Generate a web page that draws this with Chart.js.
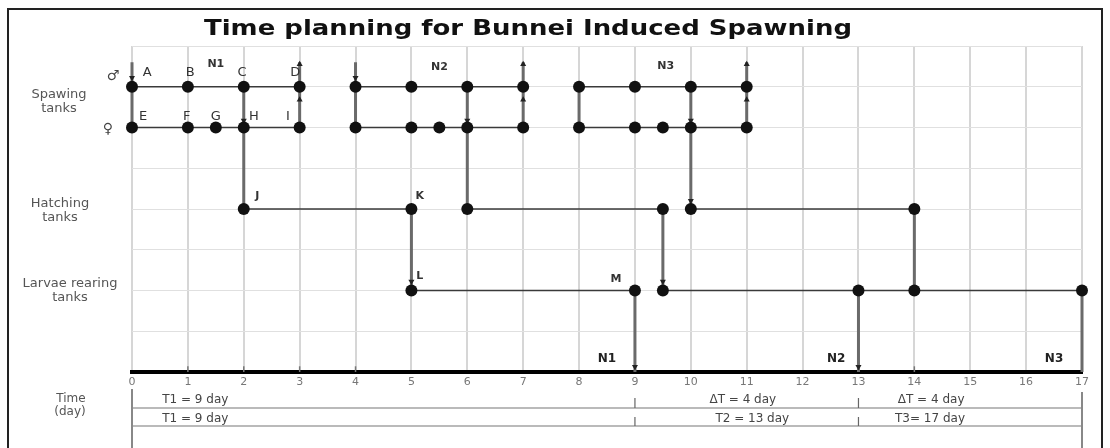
<!DOCTYPE html>
<html><head><meta charset="utf-8">
<script src="https://cdn.jsdelivr.net/npm/chart.js@4/dist/chart.umd.min.js"></script>
<style>
html,body{margin:0;padding:0;background:#fff;overflow:hidden;}
#wrap{position:relative;width:1110px;height:448px;}
#frame{position:absolute;left:7px;top:8px;width:1096px;height:460px;border:2px solid #222;box-sizing:border-box;pointer-events:none;}
canvas{position:absolute;left:0;top:0;}
</style></head>
<body><div id="wrap"><canvas id="c" width="1110" height="448"></canvas><div id="frame"></div></div>
<script>
// ---- data ----
const tickLabels = ['0','1','2','3','4','5','6','7','8','9','10','11','12','13','14','15','16','17'];
const rowLevel = {male: 7, female: 6, hatching: 4, larvae: 2, axis: 0};
const maleDays = [0,1,2,3,4,5,6,7,8,9,10,11];
const femaleDays = [0,1,1.5,2,3,4,5,5.5,6,7,8,9,9.5,10,11];
const hatchingDays = [2,5,6,9.5,10,14];
const larvaeDays = [5,9,9.5,13,14,17];
const maleSegments = [[0,3],[4,7],[8,11]];
const femaleSegments = [[0,3],[4,7],[8,11]];
const hatchingSegments = [[2,5],[6,9.5],[10,14]];
const larvaeSegments = [[5,9],[9.5,17]];
// transfers: [day, from level, to level]
const transfers = [[0,7.6,6],[2,7,4],[3,7.6,6],[4,7.6,6],[6,7,4],[7,7.6,6],[8,7,6],[10,7,4],[11,7.6,6],
                   [5,4,2],[9.5,4,2],[14,4,2],[9,2,0],[13,2,0],[17,2,0]];
const downArrows = [[0,7.22],[4,7.22],[2,6.17],[6,6.17],[10,6.17],[10,4.2],[5,2.22],[9.5,2.22],[9,0.13],[13,0.13]];
const upArrows = [[3,7.55],[7,7.55],[11,7.55],[3,6.68],[7,6.68],[11,6.68]];
const axisMarks = [1,2,3,4,14];
const letterLabels = [['A',0.27,7.34],['B',1.04,7.34],['C',1.97,7.34],['D',2.92,7.34],
                      ['E',0.2,6.26],['F',0.98,6.26],['G',1.5,6.26],['H',2.18,6.26],['I',2.79,6.26]];
const stageLabels = [['J',2.24,4.32],['K',5.15,4.32],['L',5.15,2.36],['M',8.66,2.28]];
const batchTopLabels = [['N1',1.5,7.56],['N2',5.5,7.48],['N3',9.55,7.5]];
const batchBottomLabels = [['N1',8.5,0.32],['N2',12.6,0.32],['N3',16.5,0.32]];
const rowLabels = [[['Spawing','tanks'],6.64,59],[['Hatching','tanks'],3.97,60],[['Larvae rearing','tanks'],1.99,70]];
const timeRow1 = [['T1 = 9 day',0.54,'left'],['\u0394T = 4 day',10.93,'center'],['\u0394T = 4 day',14.3,'center']];
const timeRow2 = [['T1 = 9 day',0.54,'left'],['T2 = 13 day',11.1,'center'],['T3= 17 day',14.28,'center']];
const timeBreaks = [9,13];
const titleText = 'Time planning for Bunnei Induced Spawning';

// ---- datasets ----
const datasets = [];
function seg(points, color, width){
  datasets.push({type:'scatter', data: points, showLine:true, borderColor:color, borderWidth:width,
    pointRadius:0, clip:false, order:5});
}
maleSegments.forEach(s=>seg([{x:s[0],y:rowLevel.male},{x:s[1],y:rowLevel.male}],'#3a3a3a',1.5));
femaleSegments.forEach(s=>seg([{x:s[0],y:rowLevel.female},{x:s[1],y:rowLevel.female}],'#3a3a3a',1.5));
hatchingSegments.forEach(s=>seg([{x:s[0],y:rowLevel.hatching},{x:s[1],y:rowLevel.hatching}],'#3a3a3a',1.5));
larvaeSegments.forEach(s=>seg([{x:s[0],y:rowLevel.larvae},{x:s[1],y:rowLevel.larvae}],'#3a3a3a',1.5));
transfers.forEach(t=>seg([{x:t[0],y:t[1]},{x:t[0],y:t[2]}],'#6a6a6a',3));
axisMarks.forEach(d=>seg([{x:d,y:0},{x:d,y:0.14}],'#777',1.5));

const dots = [];
maleDays.forEach(d=>dots.push({x:d,y:rowLevel.male}));
femaleDays.forEach(d=>dots.push({x:d,y:rowLevel.female}));
hatchingDays.forEach(d=>dots.push({x:d,y:rowLevel.hatching}));
larvaeDays.forEach(d=>dots.push({x:d,y:rowLevel.larvae}));
datasets.push({type:'scatter', data:dots, pointRadius:6, pointBackgroundColor:'#111', pointBorderColor:'#111',
  pointBorderWidth:0, clip:false, order:1});
datasets.push({type:'scatter', data:downArrows.map(a=>({x:a[0],y:a[1]})), pointStyle:'triangle', rotation:180,
  pointRadius:3.5, pointBackgroundColor:'#222', pointBorderColor:'#222', pointBorderWidth:0, clip:false, order:2});
datasets.push({type:'scatter', data:upArrows.map(a=>({x:a[0],y:a[1]})), pointStyle:'triangle', rotation:0,
  pointRadius:3.5, pointBackgroundColor:'#222', pointBorderColor:'#222', pointBorderWidth:0, clip:false, order:2});

// ---- annotations plugin ----
const annot = {
  id:'annot',
  beforeDraw(chart){
    const ctx=chart.ctx; ctx.save(); ctx.fillStyle='#fff'; ctx.fillRect(0,0,chart.width,chart.height); ctx.restore();
  },
  afterDraw(chart){
    const ctx=chart.ctx, xs=chart.scales.x, ys=chart.scales.y, ca=chart.chartArea;
    const X=v=>xs.getPixelForValue(v), Y=v=>ys.getPixelForValue(v);
    function txt(s,px,py,font,color,align){
      ctx.font=font; ctx.fillStyle=color; ctx.textAlign=align||'center'; ctx.textBaseline='middle';
      ctx.fillText(s,px,py);
    }
    ctx.save();
    // title
    ctx.save();
    ctx.font='bold 22px "DejaVu Sans"';
    const tw=ctx.measureText(titleText).width;
    const target=648;
    ctx.translate(528,29); ctx.scale(target/tw,1);
    txt(titleText,0,0,'bold 22px "DejaVu Sans"','#111','center');
    ctx.restore();
    // sex symbols
    txt('\u2642',113,76,'14px "DejaVu Sans"','#444','center');
    txt('\u2640',108,129,'14px "DejaVu Sans"','#444','center');
    // row labels
    rowLabels.forEach(r=>{
      const cy=Y(r[1]);
      txt(r[0][0],r[2],cy-7,'13px "DejaVu Sans"','#555','center');
      txt(r[0][1],r[2],cy+7,'13px "DejaVu Sans"','#555','center');
    });
    // point letters
    letterLabels.forEach(l=>txt(l[0],X(l[1]),Y(l[2]),'13px "DejaVu Sans"','#333','center'));
    stageLabels.forEach(l=>txt(l[0],X(l[1]),Y(l[2]),'bold 11px "DejaVu Sans"','#333','center'));
    batchTopLabels.forEach(l=>txt(l[0],X(l[1]),Y(l[2]),'bold 11px "DejaVu Sans"','#333','center'));
    batchBottomLabels.forEach(l=>txt(l[0],X(l[1]),Y(l[2]),'bold 12px "DejaVu Sans"','#222','center'));
    // time table
    const b=ca.bottom;
    const r1=b+28, r2=b+47, l1=b+36, l2=b+54;
    ctx.strokeStyle='#777'; ctx.lineWidth=1.2;
    ctx.beginPath(); ctx.moveTo(X(0),l1); ctx.lineTo(X(17),l1); ctx.moveTo(X(0),l2); ctx.lineTo(X(17),l2); ctx.stroke();
    ctx.lineWidth=2; ctx.strokeStyle='#888';
    ctx.beginPath(); ctx.moveTo(X(0),b+17); ctx.lineTo(X(0),chart.height); ctx.moveTo(X(17),b+20); ctx.lineTo(X(17),chart.height); ctx.stroke();
    ctx.lineWidth=1.2; ctx.strokeStyle='#666';
    timeBreaks.forEach(d=>{ ctx.beginPath(); ctx.moveTo(X(d),b+26); ctx.lineTo(X(d),l1); ctx.moveTo(X(d),b+45); ctx.lineTo(X(d),l2); ctx.stroke(); });
    timeRow1.forEach(t=>txt(t[0],X(t[1]),r1,'12px "DejaVu Sans"','#444',t[2]));
    timeRow2.forEach(t=>txt(t[0],X(t[1]),r2,'12px "DejaVu Sans"','#444',t[2]));
    txt('Time',71,b+27,'12px "DejaVu Sans"','#555','center');
    txt('(day)',70,b+40,'12px "DejaVu Sans"','#555','center');
    ctx.restore();
  }
};

new Chart(document.getElementById('c'), {
  data:{datasets},
  options:{
    responsive:false, animation:false, events:[],
    layout:{padding:{left:132,right:28,top:46,bottom:56}},
    plugins:{legend:{display:false}, tooltip:{enabled:false}},
    scales:{
      x:{type:'linear', min:0, max:17, afterFit(a){a.height=20;},
        ticks:{stepSize:1, autoSkip:false, maxRotation:0, color:'#777', padding:4,
          font:{size:11, family:'DejaVu Sans'}, callback:(v)=>tickLabels[v]},
        grid:{color:'#d6d6d6', lineWidth:2, drawTicks:false},
        border:{color:'#000', width:4}},
      y:{type:'linear', min:0, max:8, afterFit(a){a.width=0;},
        ticks:{display:false, stepSize:1},
        grid:{color:'#e0e0e0', lineWidth:1, drawTicks:false},
        border:{display:false}}
    }
  },
  plugins:[annot]
});
</script>
</body></html>
